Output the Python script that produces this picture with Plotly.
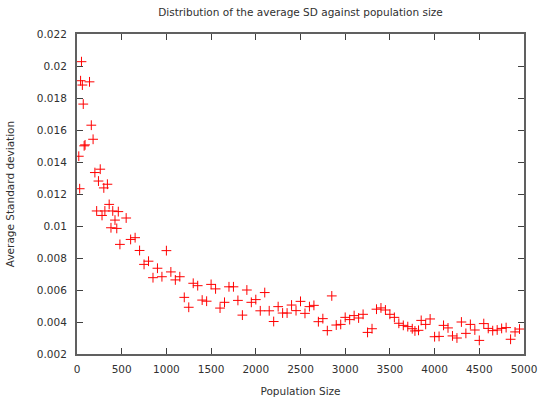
import plotly.graph_objects as go

pop_size = [20, 30, 40, 50, 60, 70, 80, 90, 140, 160, 180, 200, 220, 240, 260, 280, 300, 312,
            340, 360, 380, 400, 425, 445, 462, 480, 550, 600, 650, 700, 750, 800,
            850, 900, 950, 1000, 1050, 1100, 1150, 1200, 1250, 1300, 1350, 1400, 1450,
            1500, 1550, 1600, 1650, 1700, 1750, 1800, 1850, 1900, 1950, 2000, 2050, 2100,
            2150, 2200, 2250, 2300, 2350, 2400, 2450, 2500, 2550, 2600, 2650, 2700, 2750,
            2800, 2850, 2900, 2950, 3000, 3050, 3100, 3150, 3200, 3250, 3300, 3350, 3400,
            3450, 3500, 3550, 3600, 3650, 3700, 3750, 3780, 3820, 3850, 3900, 3950, 4000,
            4050, 4100, 4150, 4200, 4250, 4300, 4350, 4400, 4450, 4500, 4550, 4600, 4650,
            4700, 4750, 4800, 4850, 4900, 4950]
avg_sd = [0.01436, 0.01233, 0.01908, 0.02027, 0.01881, 0.01762, 0.01501, 0.01507, 0.01901,
          0.0163, 0.01542, 0.01334, 0.01094, 0.01281, 0.01355, 0.01066, 0.01238, 0.01094,
          0.01261, 0.01135, 0.00989, 0.01094, 0.01037, 0.00985, 0.0109, 0.00885, 0.0105,
          0.00916, 0.00927, 0.00847, 0.0076, 0.0078,
          0.00677, 0.00736, 0.00683, 0.00846, 0.00713, 0.00663, 0.00683, 0.00554, 0.00492,
          0.00642, 0.00627, 0.00537, 0.0053, 0.00635, 0.00607, 0.00487, 0.00523, 0.0062,
          0.0062, 0.00535, 0.00443, 0.006, 0.00523, 0.0054, 0.0047, 0.00584, 0.0047, 0.00403,
          0.00496, 0.00456, 0.00456, 0.00506, 0.00471, 0.00529, 0.00454, 0.00496, 0.00504,
          0.00402, 0.00421, 0.00346, 0.00563, 0.00381, 0.00385, 0.00429, 0.00415, 0.0044,
          0.00425, 0.00448, 0.00335, 0.00358, 0.0048, 0.00488, 0.00475, 0.00448, 0.00429,
          0.00392, 0.00379, 0.00371, 0.00358, 0.00344, 0.00348, 0.0041, 0.00385, 0.00419,
          0.00308, 0.0031, 0.00379, 0.00363, 0.00313, 0.003, 0.004, 0.00329, 0.00385, 0.0035,
          0.00285, 0.0039, 0.0036, 0.00346, 0.0035, 0.0036, 0.00365, 0.00292, 0.00338, 0.00356]

x_ticks = [0, 500, 1000, 1500, 2000, 2500, 3000, 3500, 4000, 4500, 5000]
y_ticks = [0.002, 0.004, 0.006, 0.008, 0.010, 0.012, 0.014, 0.016, 0.018, 0.020, 0.022]
y_tick_labels = ["0.002", "0.004", "0.006", "0.008", "0.01", "0.012", "0.014", "0.016",
                 "0.018", "0.02", "0.022"]

font_family = "DejaVu Sans"
text_color = "#303030"

fig = go.Figure()
fig.add_trace(go.Scatter(
    x=pop_size, y=avg_sd, mode="markers",
    marker=dict(symbol="cross-thin", size=7, color="#ff0000",
                line=dict(color="#ff0000", width=1)),
    showlegend=False,
))

axis_common = dict(
    showline=True, mirror="allticks", linecolor="#606060", linewidth=2,
    ticks="inside", ticklen=6, tickwidth=1, tickcolor="#404040",
    showgrid=False, zeroline=False, automargin=False,
    tickfont=dict(family=font_family, size=10.5, color=text_color),
)

fig.update_layout(
    width=539, height=397,
    margin=dict(l=77, r=15, t=34, b=43),
    paper_bgcolor="white", plot_bgcolor="white",
    title=dict(text="Distribution of the average SD against population size",
               x=0.5, xref="paper", xanchor="center", y=1 - 12 / 397, yref="container",
               yanchor="middle",
               font=dict(family=font_family, size=10.5, color=text_color)),
    xaxis=dict(range=[0, 5000], tickvals=x_ticks, ticklabelstandoff=4,
               title=dict(text="Population Size", standoff=16,
                          font=dict(family=font_family, size=10.5, color=text_color)),
               **axis_common),
    yaxis=dict(range=[0.002, 0.022], tickvals=y_ticks, ticktext=y_tick_labels,
               ticklabelstandoff=6,
               title=dict(text="Average Standard deviation", standoff=20,
                          font=dict(family=font_family, size=10.5, color=text_color)),
               **axis_common),
)

fig.write_html("out.html")
